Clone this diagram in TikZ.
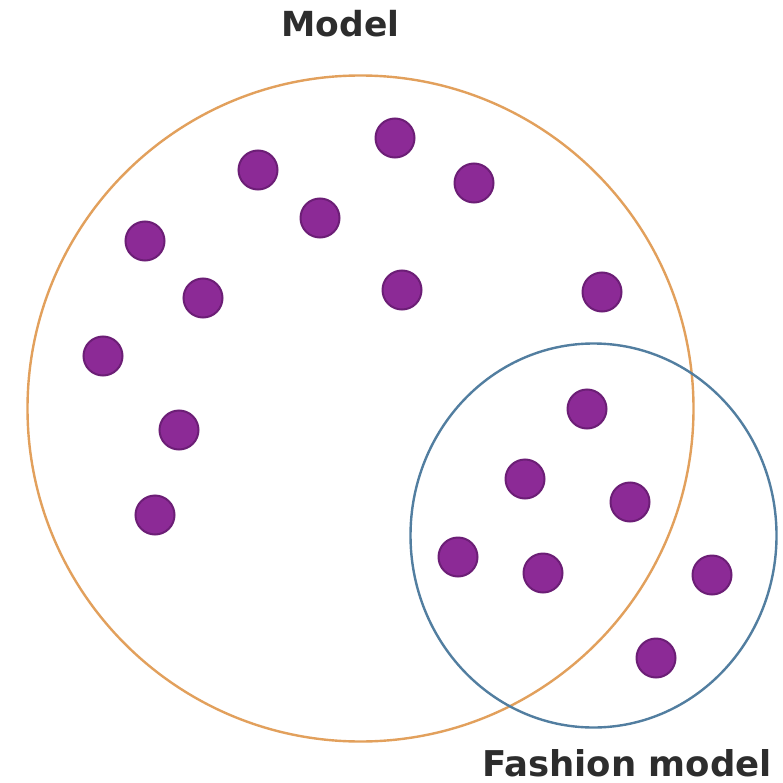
\documentclass[tikz,border=0pt]{standalone}
\usepackage{fontspec}
\setmainfont{DejaVu Sans}
\definecolor{orangeline}{RGB}{226,160,92}
\definecolor{blueline}{RGB}{82,126,160}
\definecolor{dotfill}{RGB}{140,42,150}
\definecolor{dotedge}{RGB}{108,30,118}
\definecolor{labeltext}{RGB}{45,45,45}
\tikzset{
  dot/.style={circle, fill=dotfill, draw=dotedge, line width=2pt, minimum size=39pt, inner sep=0pt},
  setlabel/.style={text=labeltext, anchor=base, inner sep=0pt},
  setline/.style={line width=2.4pt}
}
\begin{document}
\begin{tikzpicture}[x=1pt,y=-1pt]
\useasboundingbox (0,0) rectangle (782,783);
\fill[white] (0,0) rectangle (782,783);
% sets
\coordinate (mc) at (360.5,408.5);
\coordinate (fc) at (593.5,535.5);
\draw[setline, draw=orangeline] (mc) circle [x radius=333pt, y radius=333pt];
\draw[setline, draw=blueline] (fc) ellipse [x radius=183pt, y radius=192pt];
% labels
\node[setlabel, font=\fontsize{34.5}{40}\selectfont\bfseries] (model) at (340.5,37) {Model};
\node[setlabel, font=\fontsize{35.5}{40}\selectfont\bfseries] (fashion) at (627,776) {Fashion model};
% dots
\node[dot] (d1) at (395,138) {};
\node[dot] (d2) at (258,170) {};
\node[dot] (d3) at (474,183) {};
\node[dot] (d4) at (320,218) {};
\node[dot] (d5) at (145,241) {};
\node[dot] (d6) at (203,298) {};
\node[dot] (d7) at (402,290) {};
\node[dot] (d8) at (602,292) {};
\node[dot] (d9) at (103,356) {};
\node[dot] (d10) at (179,430) {};
\node[dot] (d11) at (155,515) {};
\node[dot] (d12) at (587,409) {};
\node[dot] (d13) at (525,479) {};
\node[dot] (d14) at (630,502) {};
\node[dot] (d15) at (458,557) {};
\node[dot] (d16) at (543,573) {};
\node[dot] (d17) at (712,575) {};
\node[dot] (d18) at (656,658) {};
\end{tikzpicture}
\end{document}
